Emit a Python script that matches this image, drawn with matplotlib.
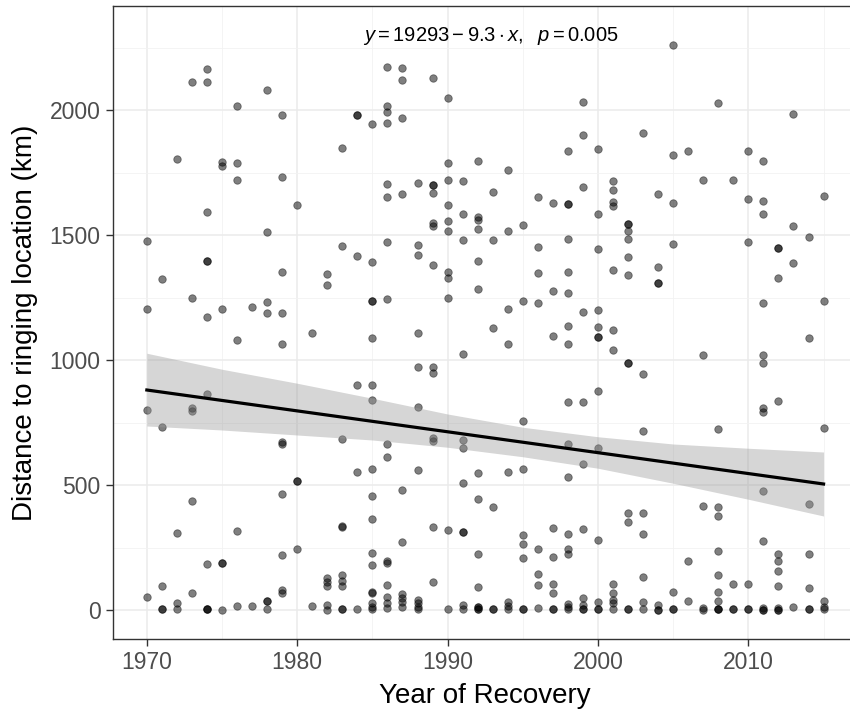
import matplotlib
matplotlib.use("Agg")
import matplotlib.pyplot as plt
from matplotlib.ticker import MultipleLocator

plt.rcParams['font.family'] = ['Liberation Sans', 'DejaVu Sans']
plt.rcParams['mathtext.fontset'] = 'custom'
plt.rcParams['mathtext.rm'] = 'Liberation Sans'
plt.rcParams['mathtext.it'] = 'Liberation Sans:italic'

# ---------------- data ----------------
recovery_year = (
    [1970] * 4 + [1971] * 5 + [1972] * 4 + [1973] * 6 + [1974] * 11 + [1975] * 6 +
    [1976] * 6 + [1977] * 2 + [1978] * 7 + [1979] * 11 + [1980] * 4 + [1981] * 2 +
    [1982] * 7 + [1983] * 10 + [1984] * 6 + [1985] * 17 + [1986] * 16 + [1987] * 10 +
    [1988] * 11 + [1989] * 13 + [1990] * 11 + [1991] * 11 + [1992] * 14 + [1993] * 6 +
    [1994] * 8 + [1995] * 9 + [1996] * 8 + [1997] * 9 + [1998] * 17 + [1999] * 11 +
    [2000] * 13 + [2001] * 12 + [2002] * 12 + [2003] * 8 + [2004] * 7 + [2005] * 7 +
    [2006] * 3 + [2007] * 5 + [2008] * 11 + [2009] * 4 + [2010] * 6 + [2011] * 13 +
    [2012] * 11 + [2013] * 4 + [2014] * 7 + [2015] * 6
)
distance_km = (
    [1477, 1204, 801, 53] +
    [1325, 732, 95, 3, 4] +
    [1804, 309, 27, 3] +
    [2113, 1249, 809, 797, 435, 68] +
    [2165, 2111, 1592, 1395, 1395, 1172, 863, 183, 4, 4, 3] +
    [1793, 1777, 1204, 187, 187, 0] +
    [2017, 1787, 1721, 1080, 315, 17] +
    [1212, 15] +
    [2080, 1513, 1231, 1189, 37, 37, 4] +
    [1979, 1732, 1352, 1187, 1065, 671, 664, 463, 221, 80, 69] +
    [1621, 517, 517, 243] +
    [1109, 15] +
    [1345, 1301, 127, 111, 95, 20, 0] +
    [1849, 1457, 685, 337, 331, 140, 116, 95, 3, 3] +
    [1980, 1980, 1415, 901, 552, 3] +
    [1944, 1393, 1237, 1237, 1089, 901, 840, 563, 455, 365, 229, 181, 72, 67, 27, 13, 3] +
    [2172, 2016, 1992, 1949, 1703, 1652, 1472, 1245, 665, 611, 196, 189, 100, 53, 29, 7] +
    [2168, 2119, 1968, 1663, 480, 272, 63, 49, 33, 13] +
    [1708, 1459, 1421, 1107, 972, 812, 561, 40, 27, 13, 3] +
    [2127, 1701, 1701, 1667, 1547, 1536, 1380, 972, 947, 687, 677, 333, 111] +
    [2049, 1787, 1721, 1621, 1557, 1515, 1353, 1327, 1248, 321, 3] +
    [1716, 1585, 1479, 1023, 680, 647, 507, 312, 312, 20, 3] +
    [1797, 1573, 1560, 1523, 1397, 1283, 549, 445, 225, 92, 12, 12, 3, 3] +
    [1671, 1480, 1129, 411, 3, 3] +
    [1761, 1517, 1204, 1064, 553, 31, 15, 3] +
    [1541, 1237, 756, 564, 300, 263, 209, 3, 3] +
    [1653, 1452, 1348, 1227, 243, 144, 99, 7] +
    [1629, 1277, 1096, 327, 213, 105, 68, 3, 3] +
    [1835, 1624, 1624, 1483, 1353, 1268, 1137, 1064, 831, 663, 531, 303, 245, 225, 24, 13, 3] +
    [2032, 1901, 1692, 1191, 832, 585, 324, 47, 20, 3, 3] +
    [1844, 1583, 1445, 1201, 1133, 1092, 1092, 876, 648, 281, 31, 3, 3] +
    [1716, 1679, 1633, 1616, 1360, 1120, 1041, 104, 69, 40, 29, 3] +
    [1544, 1544, 1516, 1484, 1411, 1340, 988, 988, 388, 353, 3, 3] +
    [1907, 945, 718, 388, 305, 133, 31, 5] +
    [1663, 1372, 1309, 1309, 20, 0, 0] +
    [2260, 1821, 1629, 1463, 72, 3, 3] +
    [1835, 197, 36] +
    [1721, 1021, 417, 8, 0] +
    [2029, 726, 411, 377, 236, 139, 73, 36, 3, 3, 3] +
    [1721, 105, 3, 3] +
    [1837, 1643, 1473, 105, 3, 3] +
    [1797, 1637, 1585, 1227, 1021, 988, 807, 793, 477, 276, 8, 0, 0] +
    [1449, 1449, 1329, 835, 224, 195, 156, 97, 8, 0, 0] +
    [1983, 1535, 1389, 13] +
    [1493, 1089, 425, 224, 89, 3, 3] +
    [1655, 1237, 728, 36, 13, 3]
)

# fitted linear trend and its confidence band
fit_year = [1970, 2015]
fit_km = [880, 504]
band_year = [1970, 1975, 1980, 1985, 1990, 1995, 2000, 2005, 2010, 2015]
band_upper = [1027, 963, 907, 847, 784, 731, 693, 664, 647, 632]
band_lower = [736, 720, 700, 680, 651, 613, 567, 507, 443, 376]

x_ticks = [1970, 1980, 1990, 2000, 2010]
y_ticks = [0, 500, 1000, 1500, 2000]
annotation = r"$y = 19293 - 9.3 \cdot x,\ \ p = 0.005$"

# ---------------- figure ----------------
W, H = 850, 711
fig = plt.figure(figsize=(W / 100, H / 100), dpi=100)
left, right, top, bottom = 113.0, 857.4, 6.25, 638.75
ax = fig.add_axes([left / W, (H - bottom) / H, (right - left) / W, (bottom - top) / H])

ax.set_xlim(1967.75, 2017.25)
ax.set_ylim(-115, 2415)

grid_col = '#ebebeb'
ax.set_axisbelow(True)
ax.xaxis.set_major_locator(plt.FixedLocator(x_ticks))
ax.yaxis.set_major_locator(plt.FixedLocator(y_ticks))
ax.xaxis.set_minor_locator(MultipleLocator(5))
ax.yaxis.set_minor_locator(MultipleLocator(250))
ax.grid(which='major', color=grid_col, linewidth=1.1)
ax.grid(which='minor', color='#f2f2f2', linewidth=0.6)
ax.tick_params(which='minor', length=0)
ax.tick_params(which='major', length=5, width=1.0, color='#333333',
               labelsize=16.5, labelcolor='#4d4d4d', pad=4)

for sp in ax.spines.values():
    sp.set_color('#333333')
    sp.set_linewidth(1.0)

ax.scatter(recovery_year, distance_km, s=29, facecolor=(0, 0, 0, 0.5),
           edgecolor=(0, 0, 0, 0.45), linewidths=0.6, zorder=2)

ax.fill_between(band_year, band_lower, band_upper, color='#999999', alpha=0.4,
                linewidth=0, zorder=3)
ax.plot(fit_year, fit_km, color='black', linewidth=2.3, zorder=4)

ax.text(1992.9, 2295, annotation, ha='center', va='center', fontsize=14.5, color='black')

ax.set_xlabel('Year of Recovery', fontsize=20, labelpad=6)
ax.set_ylabel('Distance to ringing location (km)', fontsize=20, labelpad=8)

fig.savefig('out.png', dpi=100)
